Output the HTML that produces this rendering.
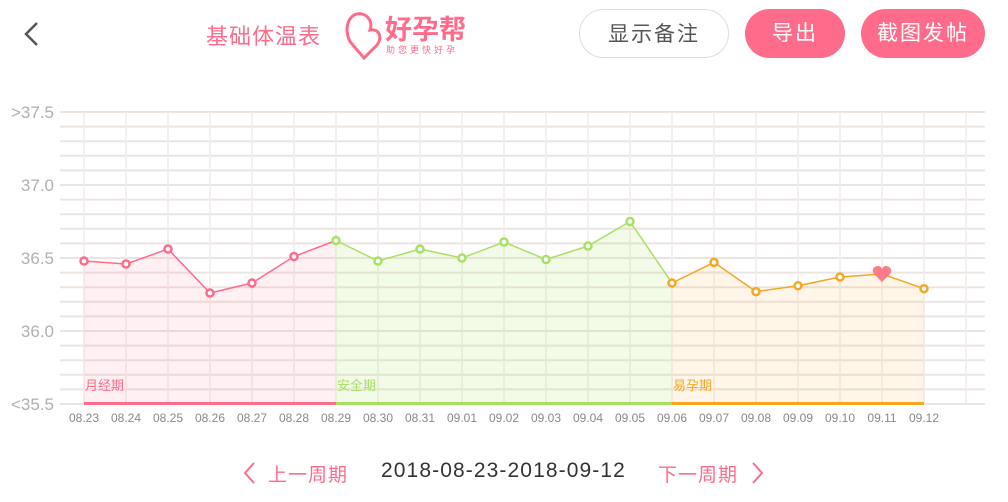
<!DOCTYPE html><html><head><meta charset="utf-8"><style>
body{margin:0;width:1008px;height:502px;background:#fff;font-family:"Liberation Sans","Noto Sans CJK SC",sans-serif;position:relative;overflow:hidden}
.a{position:absolute}
.btn{position:absolute;top:9px;height:49px;border-radius:25px;font-size:21px;line-height:49px;text-align:center;box-sizing:border-box;letter-spacing:2px}
</style></head><body>
<svg class="a" style="left:20px;top:20px" width="24" height="30"><polyline points="17,3 6,14 17,25" fill="none" stroke="#555" stroke-width="2.5"/></svg>
<div class="a" style="left:206px;top:19px;font-size:22px;color:#ff6b8a;letter-spacing:1px">基础体温表</div>
<svg class="a" style="left:344px;top:10px" width="40" height="50"><path d="M10,5 C0,12 2,28 8,34 L20,48 L30,38 C40,30 36,18 26,20 C30,10 20,0 10,5 Z" fill="none" stroke="#ff6b8a" stroke-width="3"/></svg>
<div class="a" style="left:385px;top:8px;font-size:27px;font-weight:bold;color:#ff6b8a">好孕帮</div>
<div class="a" style="left:386px;top:43px;font-size:9px;color:#ff6b8a;letter-spacing:3px">助您更快好孕</div>
<div class="btn" style="left:579px;width:150px;border:1px solid #ddd;color:#555">显示备注</div>
<div class="btn" style="left:745px;width:100px;background:#ff6b8a;color:#fff">导出</div>
<div class="btn" style="left:861px;width:124px;background:#ff6b8a;color:#fff">截图发帖</div>
<svg class="a" style="left:0;top:0" width="1008" height="430">
<g stroke="#ebe5e2" stroke-width="2">
<line x1="60" x2="985" y1="112" y2="112"/><line x1="60" x2="985" y1="126.6" y2="126.6"/><line x1="60" x2="985" y1="141.2" y2="141.2"/><line x1="60" x2="985" y1="155.8" y2="155.8"/><line x1="60" x2="985" y1="170.4" y2="170.4"/><line x1="60" x2="985" y1="185" y2="185"/><line x1="60" x2="985" y1="199.6" y2="199.6"/><line x1="60" x2="985" y1="214.2" y2="214.2"/><line x1="60" x2="985" y1="228.8" y2="228.8"/><line x1="60" x2="985" y1="243.4" y2="243.4"/><line x1="60" x2="985" y1="258" y2="258"/><line x1="60" x2="985" y1="272.6" y2="272.6"/><line x1="60" x2="985" y1="287.2" y2="287.2"/><line x1="60" x2="985" y1="301.8" y2="301.8"/><line x1="60" x2="985" y1="316.4" y2="316.4"/><line x1="60" x2="985" y1="331" y2="331"/><line x1="60" x2="985" y1="345.6" y2="345.6"/><line x1="60" x2="985" y1="360.2" y2="360.2"/><line x1="60" x2="985" y1="374.8" y2="374.8"/><line x1="60" x2="985" y1="389.4" y2="389.4"/><line x1="60" x2="985" y1="404" y2="404"/>
</g>
<g stroke="#f0ece8" stroke-width="1.5">
<line x1="84" x2="84" y1="112" y2="404"/><line x1="126" x2="126" y1="112" y2="404"/><line x1="168" x2="168" y1="112" y2="404"/><line x1="210" x2="210" y1="112" y2="404"/><line x1="252" x2="252" y1="112" y2="404"/><line x1="294" x2="294" y1="112" y2="404"/><line x1="336" x2="336" y1="112" y2="404"/><line x1="378" x2="378" y1="112" y2="404"/><line x1="420" x2="420" y1="112" y2="404"/><line x1="462" x2="462" y1="112" y2="404"/><line x1="504" x2="504" y1="112" y2="404"/><line x1="546" x2="546" y1="112" y2="404"/><line x1="588" x2="588" y1="112" y2="404"/><line x1="630" x2="630" y1="112" y2="404"/><line x1="672" x2="672" y1="112" y2="404"/><line x1="714" x2="714" y1="112" y2="404"/><line x1="756" x2="756" y1="112" y2="404"/><line x1="798" x2="798" y1="112" y2="404"/><line x1="840" x2="840" y1="112" y2="404"/><line x1="882" x2="882" y1="112" y2="404"/><line x1="924" x2="924" y1="112" y2="404"/><line x1="966" x2="966" y1="112" y2="404"/>
</g>
<polygon points="84,404 84,261 126,264 168,249 210,293 252,283 294,256.5 336,240.5 336,404" fill="#ff6b8a" fill-opacity="0.1"/>
<polygon points="336,404 336,240.5 378,261 420,249 462,258 504,242 546,259.5 588,246 630,221.5 672,283 672,404" fill="#a8e063" fill-opacity="0.15"/>
<polygon points="672,404 672,283 714,262.4 756,291.6 798,285.7 840,277 882,274 924,288.7 924,404" fill="#ffb04a" fill-opacity="0.13"/>
<polyline points="84,261 126,264 168,249 210,293 252,283 294,256.5 336,240.5" fill="none" stroke="#ff6b8a" stroke-width="1.5"/>
<polyline points="336,240.5 378,261 420,249 462,258 504,242 546,259.5 588,246 630,221.5 672,283" fill="none" stroke="#a8e063" stroke-width="1.5"/>
<polyline points="672,283 714,262.4 756,291.6 798,285.7 840,277 882,274 924,288.7" fill="none" stroke="#f5a623" stroke-width="1.5"/>
<g fill="#fff" stroke-width="2.5">
<g stroke="#ff6b8a"><circle cx="84" cy="261" r="3.5"/><circle cx="126" cy="264" r="3.5"/><circle cx="168" cy="249" r="3.5"/><circle cx="210" cy="293" r="3.5"/><circle cx="252" cy="283" r="3.5"/><circle cx="294" cy="256.5" r="3.5"/></g>
<g stroke="#a8e063"><circle cx="336" cy="240.5" r="3.5"/><circle cx="378" cy="261" r="3.5"/><circle cx="420" cy="249" r="3.5"/><circle cx="462" cy="258" r="3.5"/><circle cx="504" cy="242" r="3.5"/><circle cx="546" cy="259.5" r="3.5"/><circle cx="588" cy="246" r="3.5"/><circle cx="630" cy="221.5" r="3.5"/></g>
<g stroke="#f5a623"><circle cx="672" cy="283" r="3.5"/><circle cx="714" cy="262.4" r="3.5"/><circle cx="756" cy="291.6" r="3.5"/><circle cx="798" cy="285.7" r="3.5"/><circle cx="840" cy="277" r="3.5"/><circle cx="924" cy="288.7" r="3.5"/></g>
</g>
<path d="M882,282 L874,274 C871,270 874,266 878,266 C880,266 881,267 882,269 C883,267 884,266 886,266 C890,266 893,270 890,274 Z" fill="#ff7a8a"/>
<rect x="84" y="402" width="252" height="3" fill="#ff6b8a"/><rect x="336" y="402" width="336" height="3" fill="#a8e063"/><rect x="672" y="402" width="252" height="3" fill="#f5a623"/>
<g font-size="13"><text x="85" y="390" fill="#ff6b8a">月经期</text><text x="337" y="390" fill="#a8e063">安全期</text><text x="673" y="390" fill="#f5a623">易孕期</text></g>
<g font-size="17" fill="#b0b0b0" text-anchor="end"><text x="54" y="118">&gt;37.5</text><text x="54" y="191">37.0</text><text x="54" y="264">36.5</text><text x="54" y="337">36.0</text><text x="54" y="410">&lt;35.5</text></g>
<g font-size="12" fill="#888" text-anchor="middle"><text x="84" y="422">08.23</text><text x="126" y="422">08.24</text><text x="168" y="422">08.25</text><text x="210" y="422">08.26</text><text x="252" y="422">08.27</text><text x="294" y="422">08.28</text><text x="336" y="422">08.29</text><text x="378" y="422">08.30</text><text x="420" y="422">08.31</text><text x="462" y="422">09.01</text><text x="504" y="422">09.02</text><text x="546" y="422">09.03</text><text x="588" y="422">09.04</text><text x="630" y="422">09.05</text><text x="672" y="422">09.06</text><text x="714" y="422">09.07</text><text x="756" y="422">09.08</text><text x="798" y="422">09.09</text><text x="840" y="422">09.10</text><text x="882" y="422">09.11</text><text x="924" y="422">09.12</text></g>
</svg>
<svg class="a" style="left:240px;top:460px" width="20" height="26"><polyline points="14,3 5,13 14,23" fill="none" stroke="#ff6b8a" stroke-width="2"/></svg>
<div class="a" style="left:268px;top:460px;font-size:19px;color:#ff6b8a;letter-spacing:1px">上一周期</div>
<div class="a" style="left:381px;top:459px;font-size:21px;color:#333;letter-spacing:1.1px">2018-08-23-2018-09-12</div>
<div class="a" style="left:658px;top:460px;font-size:19px;color:#ff6b8a;letter-spacing:1px">下一周期</div>
<svg class="a" style="left:748px;top:460px" width="20" height="26"><polyline points="5,3 14,13 5,23" fill="none" stroke="#ff6b8a" stroke-width="2"/></svg>
</body></html>
